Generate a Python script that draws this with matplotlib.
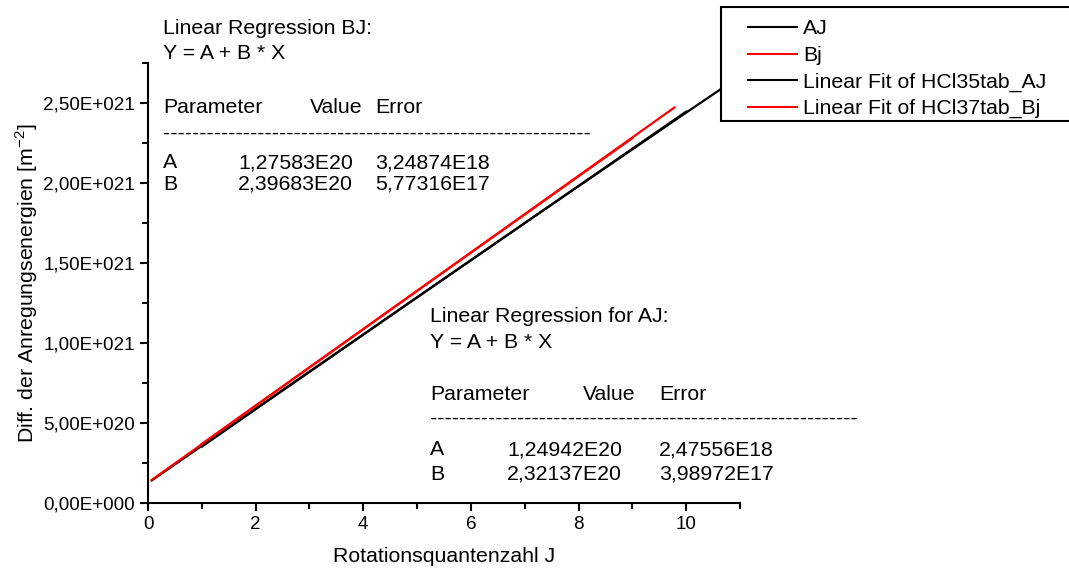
"""
Linear fits of rotational excitation energy differences (HCl35 / HCl37).
Origin-style plot recreated with matplotlib.
"""
import numpy as np
import matplotlib
matplotlib.use("Agg")
import matplotlib.pyplot as plt
from matplotlib.lines import Line2D
from matplotlib.patches import Rectangle
from matplotlib.ticker import FuncFormatter, MultipleLocator

plt.rcParams["font.family"] = ["Liberation Sans", "DejaVu Sans"]
FS = 15.3
TICK_FS = 13.6
W, H = 1069, 571

# data (values in 1E20 m^-2)
aj_j = [1, 2, 3, 4, 5, 6, 7, 8, 9, 10, 11]
aj_vals = [3.52, 5.86, 8.19, 10.52, 12.85, 15.17, 17.49, 19.80, 22.10, 24.40, 26.68]
bj_j = [1, 2, 3, 4, 5, 6, 7, 8, 9]
bj_vals = [3.69, 6.09, 8.48, 10.87, 13.26, 15.65, 18.03, 20.42, 22.80]

# fit parameters (as printed in the chart)
fit_aj = (1.24942e20, 2.32137e20)
fit_bj = (1.27583e20, 2.39683e20)
fit_aj_range = (0.07, 10.0)
fit_bj_range = (0.07, 9.78)

legend_labels = ["AJ", "Bj", "Linear Fit of HCl35tab_AJ", "Linear Fit of HCl37tab_Bj"]
legend_colors = ["black", "red", "black", "red"]


def sci_comma(v, pos=None):
    if v == 0:
        return "0,00E+000"
    exp = int(np.floor(np.log10(abs(v))))
    mant = v / 10 ** exp
    return f"{mant:.2f}".replace(".", ",") + f"E+{exp:03d}"


fig = plt.figure(figsize=(W / 100, H / 100), dpi=100)
ax = fig.add_axes([148 / W, 1 - 503 / H, 592 / W, 440 / H])

aj = np.array(aj_vals) * 1e20
bj = np.array(bj_vals) * 1e20
ax.plot(aj_j, aj, color="black", lw=1.6)
ax.plot(bj_j, bj, color="red", lw=1.6)
xa = np.array(fit_aj_range)
xb = np.array(fit_bj_range)
ax.plot(xa, fit_aj[0] + fit_aj[1] * xa, color="black", lw=1.6)
ax.plot(xb, fit_bj[0] + fit_bj[1] * xb, color="red", lw=1.6)

ax.set_xlim(0, 11)
ax.set_ylim(0, 2.75e21)
ax.xaxis.set_major_locator(MultipleLocator(2))
ax.xaxis.set_minor_locator(MultipleLocator(1))
ax.yaxis.set_major_locator(MultipleLocator(5e20))
ax.yaxis.set_minor_locator(MultipleLocator(2.5e20))
ax.yaxis.set_major_formatter(FuncFormatter(sci_comma))
ax.yaxis.get_offset_text().set_visible(False)

for s in ["top", "right"]:
    ax.spines[s].set_visible(False)
for s in ["left", "bottom"]:
    ax.spines[s].set_linewidth(1.5)
ax.tick_params(which="major", direction="out", length=6, width=1.5, labelsize=TICK_FS)
ax.tick_params(which="minor", direction="out", length=4, width=1.5)

ax.set_xlabel("Rotationsquantenzahl J", fontsize=FS, labelpad=10)
ax.set_ylabel("Diff. der Anregungsenergien [m$^{\\mathregular{-2}}$]", fontsize=FS, labelpad=2)


# regression text blocks (figure pixel coordinates, baseline)
def fig_text(x, y, s, **kw):
    fig.text(x / W, 1 - y / H, s, fontsize=FS, va="baseline", ha="left", **kw)


dashes = "-" * 59
# block BJ
fig_text(163, 34, "Linear Regression BJ:")
fig_text(163, 59, "Y = A + B * X")
fig_text(163, 113, "Parameter")
fig_text(310, 113, "Value")
fig_text(375, 113, "Error")
fig_text(163, 139, dashes)
fig_text(163, 168, "A")
fig_text(238, 168, "1,27583E20")
fig_text(375, 168, "3,24874E18")
fig_text(163, 190, "B")
fig_text(238, 190, "2,39683E20")
fig_text(375, 190, "5,77316E17")
# block AJ
fig_text(430, 322, "Linear Regression for AJ:")
fig_text(430, 348, "Y = A + B * X")
fig_text(430, 400, "Parameter")
fig_text(583, 400, "Value")
fig_text(659, 400, "Error")
fig_text(430, 424, dashes)
fig_text(430, 455, "A")
fig_text(507, 455, "1,24942E20")
fig_text(659, 455, "2,47556E18")
fig_text(430, 480, "B")
fig_text(507, 480, "2,32137E20")
fig_text(659, 480, "3,98972E17")

# Origin-style legend box, partly running off the right edge
fig.add_artist(Rectangle((721 / W, 1 - 121 / H), 360 / W, 114 / H,
                         transform=fig.transFigure, facecolor="white",
                         edgecolor="black", lw=1.5, zorder=5))
for i, (lab, col) in enumerate(zip(legend_labels, legend_colors)):
    y = 1 - (27 + 26.5 * i) / H
    fig.add_artist(Line2D([748 / W, 797 / W], [y, y], transform=fig.transFigure,
                          color=col, lw=1.5, zorder=6))
    fig.text(803 / W, y, lab, fontsize=FS, va="center_baseline", ha="left", zorder=6)

fig.savefig("out.png", dpi=100)
